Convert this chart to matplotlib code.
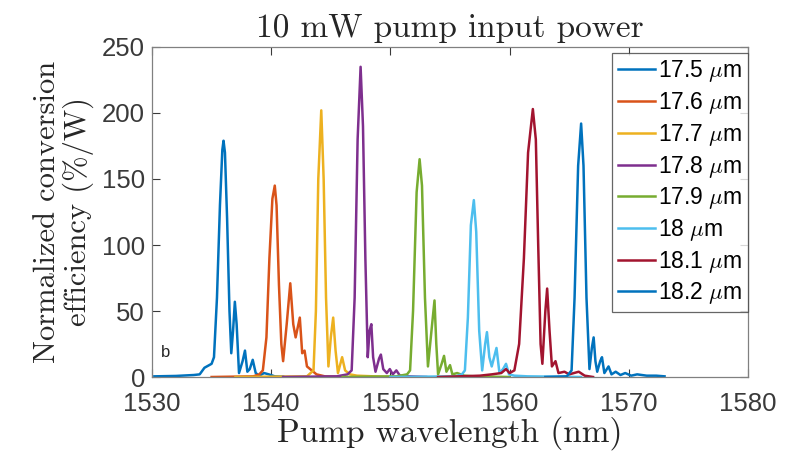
import matplotlib
matplotlib.use("Agg")
import matplotlib.pyplot as plt

plt.rcParams['mathtext.fontset'] = 'cm'
plt.rcParams['font.family'] = ['Liberation Sans', 'DejaVu Sans']

labels = ["17.5 $\\mu$m", "17.6 $\\mu$m", "17.7 $\\mu$m", "17.8 $\\mu$m",
          "17.9 $\\mu$m", "18 $\\mu$m", "18.1 $\\mu$m", "18.2 $\\mu$m"]
colors = ["#0072BD", "#D95319", "#EDB120", "#7E2F8E",
          "#77AC30", "#4DBEEE", "#A2142F", "#0072BD"]

x175 = [1530.2, 1532, 1533.5, 1534.0, 1534.4, 1535.0, 1535.2, 1535.45, 1535.7, 1535.9, 1536.0, 1536.12,
        1536.3, 1536.5, 1536.65, 1536.8, 1536.95, 1537.1, 1537.3, 1537.6, 1537.8, 1538.0, 1538.2,
        1538.45, 1538.7, 1539.0, 1539.4, 1539.8, 1540.3, 1541]
y175 = [0.5, 0.8, 1.5, 2, 7, 10, 15, 60, 130, 172, 179, 170,
        120, 50, 18, 35, 57, 40, 3, 12, 20, 4, 6,
        13, 3, 1, 3, 2, 0.5, 0.3]

x176 = [1535.0, 1538.5, 1539.0, 1539.3, 1539.6, 1539.85, 1540.1, 1540.3, 1540.45, 1540.65, 1540.85, 1541.0,
        1541.3, 1541.6, 1541.85, 1542.05, 1542.4, 1542.6, 1542.8, 1543.0, 1543.4, 1543.8, 1544.5, 1546]
y176 = [0, 0.5, 2, 5, 30, 90, 135, 145, 130, 70, 25, 12,
        40, 71, 40, 30, 45, 18, 20, 8, 5, 2, 0.5, 0]

x177 = [1537, 1543, 1543.55, 1543.75, 1543.95, 1544.2, 1544.4, 1544.6, 1544.8, 1545.0, 1545.2, 1545.4,
        1545.6, 1545.95, 1546.2, 1546.6, 1547.2, 1550]
y177 = [0, 0.5, 5, 50, 150, 202, 150, 60, 8, 30, 45, 20,
        3, 15, 5, 2, 1, 0]

x178 = [1541, 1545.5, 1546.4, 1546.75, 1547.0, 1547.25, 1547.5, 1547.7, 1547.9, 1548.1, 1548.25, 1548.4,
        1548.55, 1548.75, 1549.05, 1549.2, 1549.4, 1549.7, 1549.95, 1550.2, 1550.5, 1550.8, 1551.5, 1553]
y178 = [0, 0.5, 2, 5, 60, 180, 235, 190, 90, 15, 35, 40,
        15, 4, 14, 17, 6, 3, 6, 2, 5, 1, 0.5, 0]

x179 = [1546, 1550.5, 1551.4, 1551.65, 1551.9, 1552.2, 1552.45, 1552.65, 1552.9, 1553.15, 1553.5, 1553.7,
        1553.85, 1554.0, 1554.3, 1554.5, 1554.7, 1555.0, 1555.2, 1555.6, 1556.2, 1557, 1560]
y179 = [0, 0.5, 2, 5, 50, 140, 165, 145, 60, 8, 40, 58,
        25, 2, 10, 16, 4, 9, 2, 3, 1, 0.5, 0]

x180 = [1550, 1555.5, 1556.0, 1556.25, 1556.5, 1556.75, 1557.0, 1557.2, 1557.45, 1557.7, 1557.95, 1558.1,
        1558.3, 1558.5, 1558.9, 1559.15, 1559.45, 1559.7, 1559.95, 1560.4, 1561.5, 1566]
y180 = [0, 0.5, 2, 5, 45, 115, 134, 110, 35, 5, 25, 34,
        15, 8, 22, 3, 6, 10, 2, 1, 0.5, 0]

x181 = [1554, 1557.5, 1558.5, 1559.3, 1559.7, 1560.0, 1560.4, 1560.8, 1561.2, 1561.55, 1561.95, 1562.2,
        1562.4, 1562.6, 1562.75, 1563.0, 1563.15, 1563.35, 1563.55, 1563.85, 1564.1, 1564.6, 1565.0,
        1565.8, 1566.3, 1567]
y181 = [0, 1, 2, 3, 6, 3, 5, 25, 90, 170, 203, 180,
        100, 25, 10, 50, 67, 35, 8, 12, 3, 4, 2,
        4, 1, 0]

x182 = [1563, 1564.8, 1565.2, 1565.45, 1565.75, 1566.0, 1566.2, 1566.45, 1566.7, 1566.9, 1567.05, 1567.2,
        1567.35, 1567.6, 1567.75, 1567.95, 1568.3, 1568.55, 1568.9, 1569.3, 1569.7, 1570.2, 1570.7,
        1571.5, 1572.3, 1573]
y182 = [0, 0.5, 5, 60, 160, 192, 160, 60, 6, 22, 30, 12,
        4, 12, 15, 3, 8, 2, 4, 1.5, 3, 1, 2,
        1, 1, 0.5]

xs = [x175, x176, x177, x178, x179, x180, x181, x182]
ys = [y175, y176, y177, y178, y179, y180, y181, y182]

xticks = [1530, 1540, 1550, 1560, 1570, 1580]
yticks = [0, 50, 100, 150, 200, 250]

fig = plt.figure(figsize=(7.91, 4.61), dpi=100)
ax = fig.add_axes([152/791, 1 - 377/461, 596/791, 330/461])

for x, y, c, lab in zip(xs, ys, colors, labels):
    ax.plot(x, y, color=c, lw=1.8, label=lab)

ax.set_xlim(1530, 1580)
ax.set_ylim(0, 250)
ax.set_xticks(xticks)
ax.set_yticks(yticks)
ax.tick_params(direction='in', top=True, right=True, length=6, width=0.8,
               labelsize=18.5, colors='#3a3a3a')
ax.tick_params(axis='x', pad=11)
ax.tick_params(axis='y', pad=5)
for s in ax.spines.values():
    s.set_color('#808080')
    s.set_linewidth(0.9)

cm = dict(family='cmr10', color='#262626')
ax.set_title("10 mW pump input power", fontsize=24, pad=7, **cm)
ax.set_xlabel("Pump wavelength (nm)", fontsize=24, labelpad=0, **cm)
ax.set_ylabel("Normalized conversion\nefficiency (%/W)", fontsize=22, labelpad=6,
              linespacing=1.05, **cm)

ax.text(0.015, 0.06, "b", transform=ax.transAxes, fontsize=12, color='#262626')

leg = ax.legend(loc='upper right', bbox_to_anchor=(1.0, 0.983), borderaxespad=0,
                fontsize=16.5, handlelength=1.6, handletextpad=0.15, labelspacing=0.25,
                frameon=True, fancybox=False, borderpad=0.25)
leg.get_frame().set_edgecolor('#404040')
leg.get_frame().set_linewidth(0.9)

fig.savefig("out.png", dpi=100)
